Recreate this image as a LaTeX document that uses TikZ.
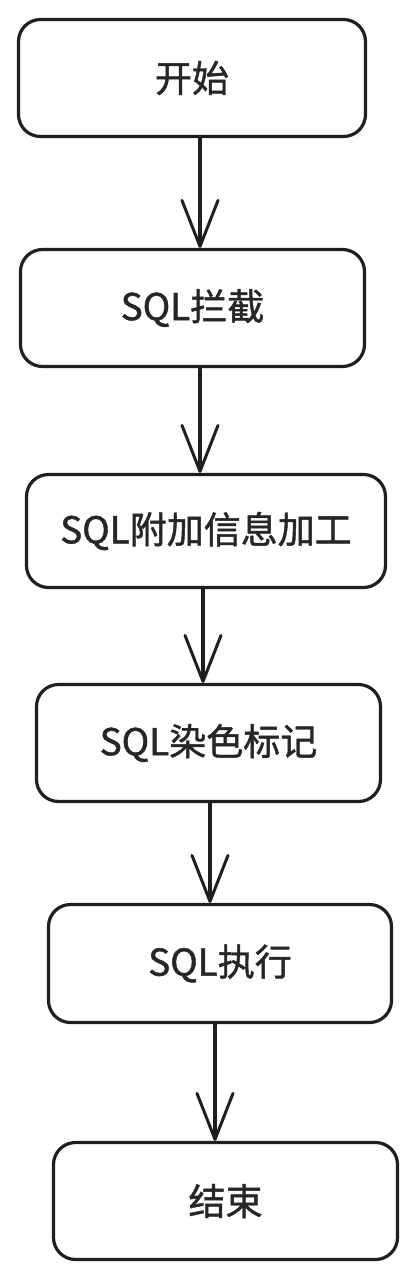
\documentclass[tikz,border=0pt]{standalone}
\usepackage{fontspec}
\newfontfamily\cjk[FakeBold=1.2]{Noto Sans CJK SC}
\usetikzlibrary{arrows.meta}
\begin{document}
\begin{tikzpicture}[x=1pt,y=-1pt,
  box/.style={draw=black!88, line width=3.2pt, rounded corners=22pt, fill=white, inner sep=0pt,
    font=\cjk\fontsize{37}{44}\selectfont, text=black!85},
  arr/.style={draw=black!88, line width=3.2pt, line cap=round,
    -{Straight Barb[length=46pt,width=36pt,line width=3pt,round]}}]
\useasboundingbox (0,0) rectangle (417,1280);
\node[box, minimum width=347pt, minimum height=117pt] (b1) at (192,78) {开始};
\node[box, minimum width=344pt, minimum height=117pt] (b2) at (192.5,308) {SQL拦截};
\node[box, minimum width=359pt, minimum height=113pt] (b3) at (206,531) {SQL附加信息加工};
\node[box, minimum width=344pt, minimum height=117pt] (b4) at (208.5,743) {SQL染色标记};
\node[box, minimum width=343pt, minimum height=118pt] (b5) at (220,963.5) {SQL执行};
\node[box, minimum width=344pt, minimum height=117pt] (b6) at (225.5,1201) {结束};
\draw[arr] (b1.south -| 200,0) -- (b2.north -| 200,0);
\draw[arr] (b2.south -| 200,0) -- (b3.north -| 200,0);
\draw[arr] (b3.south -| 203,0) -- (b4.north -| 203,0);
\draw[arr] (b4.south -| 210,0) -- (b5.north -| 210,0);
\draw[arr] (b5.south -| 215,0) -- (b6.north -| 215,0);
\end{tikzpicture}
\end{document}
